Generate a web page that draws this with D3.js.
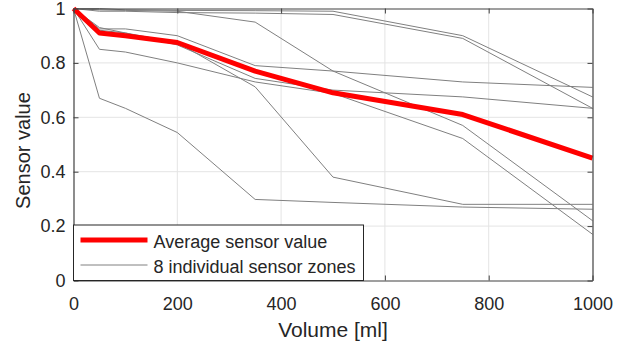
<!DOCTYPE html>
<html>
<head>
<meta charset="utf-8">
<script src="https://cdn.jsdelivr.net/npm/d3@7"></script>
<style>
  body { margin: 0; background: #fff; }
  svg text { font-family: 'Liberation Sans', Arial, Helvetica, sans-serif; fill: #262626; }
</style>
</head>
<body>
<svg id="chart" width="627" height="345"></svg>
<script>
// volume steps [ml]
const volumes = [0, 50, 100, 200, 350, 500, 750, 1000]

// mean over the zones
const average = [1, 0.91, 0.9, 0.875, 0.77, 0.69, 0.61, 0.45]

// the 8 sensor zones
const zone1 = [1, 1.0, 0.995, 0.993, 0.992, 0.99, 0.9, 0.675]
const zone2 = [1, 0.99, 0.99, 0.985, 0.983, 0.978, 0.89, 0.633]
const zone3 = [1, 0.995, 0.993, 0.99, 0.95, 0.77, 0.57, 0.22]
const zone4 = [1, 0.925, 0.925, 0.9, 0.79, 0.77, 0.73, 0.71]
const zone5 = [1, 0.92, 0.91, 0.866, 0.743, 0.7, 0.675, 0.633]
const zone6 = [1, 0.85, 0.84, 0.8, 0.73, 0.688, 0.522, 0.17]
const zone7 = [1, 0.93, 0.91, 0.875, 0.712, 0.38, 0.28, 0.28]
const zone8 = [1, 0.67, 0.633, 0.544, 0.298, 0.287, 0.27, 0.262]
const zones = [zone1, zone2, zone3, zone4, zone5, zone6, zone7, zone8]

const xTicks = [0, 200, 400, 600, 800, 1000]
const yTicks = [0, 0.2, 0.4, 0.6, 0.8, 1]
const legendLabels = ['Average sensor value', '8 individual sensor zones']

const WIDTH = 627
const HEIGHT = 345
const margin = { top: 8.5, right: 34.5, bottom: 64.5, left: 73.5 }
const innerW = WIDTH - margin.left - margin.right
const innerH = HEIGHT - margin.top - margin.bottom

const svg = d3.select('#chart')
const g = svg.append('g').attr('transform', `translate(${margin.left},${margin.top})`)

const x = d3.scaleLinear().domain([0, 1000]).range([0, innerW])
const y = d3.scaleLinear().domain([0, 1]).range([innerH, 0])

// grid
g.append('g')
  .selectAll('line')
  .data(xTicks.slice(1, -1))
  .join('line')
  .attr('x1', d => x(d)).attr('x2', d => x(d))
  .attr('y1', 0).attr('y2', innerH)
  .attr('stroke', '#e4e4e4')
g.append('g')
  .selectAll('line')
  .data(yTicks.slice(1, -1))
  .join('line')
  .attr('y1', d => y(d)).attr('y2', d => y(d))
  .attr('x1', 0).attr('x2', innerW)
  .attr('stroke', '#e4e4e4')

const line = d3.line()
  .x((d, i) => x(volumes[i]))
  .y(d => y(d))

// individual zones
g.append('g')
  .selectAll('path')
  .data(zones)
  .join('path')
  .attr('d', line)
  .attr('fill', 'none')
  .attr('stroke', '#808080')
  .attr('stroke-width', 1)

// average
g.append('path')
  .datum(average)
  .attr('d', line)
  .attr('fill', 'none')
  .attr('stroke', '#ff0000')
  .attr('stroke-width', 5)
  .attr('stroke-linejoin', 'round')

// axes (box with inward ticks)
const fmt = d3.format('~g')
const styleAxis = sel => {
  sel.select('.domain').attr('stroke', '#404040').attr('stroke-width', 1.2)
  sel.selectAll('.tick line').attr('stroke', '#404040')
  sel.selectAll('.tick text')
    .attr('fill', '#262626')
    .style('font-size', '18px')
}

g.append('g')
  .attr('transform', `translate(0,${innerH})`)
  .call(d3.axisBottom(x).tickValues(xTicks).tickFormat(fmt).tickSize(-5).tickSizeOuter(0).tickPadding(17))
  .call(styleAxis)

g.append('g')
  .call(d3.axisLeft(y).tickValues(yTicks).tickFormat(fmt).tickSize(-5).tickSizeOuter(0).tickPadding(8))
  .call(styleAxis)

g.append('g')
  .call(d3.axisTop(x).tickValues(xTicks).tickFormat('').tickSize(-5).tickSizeOuter(0))
  .call(styleAxis)

g.append('g')
  .attr('transform', `translate(${innerW},0)`)
  .call(d3.axisRight(y).tickValues(yTicks).tickFormat('').tickSize(-5).tickSizeOuter(0))
  .call(styleAxis)

svg.selectAll('.domain, .tick line').attr('fill', 'none')
svg.selectAll('g text').attr('font-family', null)

// axis titles
svg.append('text')
  .attr('x', margin.left + innerW / 2)
  .attr('y', 337)
  .attr('text-anchor', 'middle')
  .style('font-size', '21px')
  .text('Volume [ml]')

svg.append('text')
  .attr('transform', `translate(30,${margin.top + innerH / 2 + 6}) rotate(-90)`)
  .attr('text-anchor', 'middle')
  .style('font-size', '20px')
  .text('Sensor value')

// legend
const legend = g.append('g').attr('transform', `translate(0,${innerH - 55.5})`)
legend.append('rect')
  .attr('width', 290)
  .attr('height', 55.5)
  .attr('fill', '#fff')
  .attr('stroke', '#262626')
  .attr('stroke-width', 1)

const legendItems = legend.selectAll('g.item')
  .data(legendLabels)
  .join('g')
  .attr('class', 'item')
  .attr('transform', (d, i) => `translate(7,${15 + i * 25})`)

legendItems.append('line')
  .attr('x1', 0).attr('x2', 67)
  .attr('stroke', (d, i) => i === 0 ? '#ff0000' : '#808080')
  .attr('stroke-width', (d, i) => i === 0 ? 5 : 1)

legendItems.append('text')
  .attr('x', 73)
  .attr('y', 7.5)
  .style('font-size', '18px')
  .text(d => d)
</script>
</body>
</html>
